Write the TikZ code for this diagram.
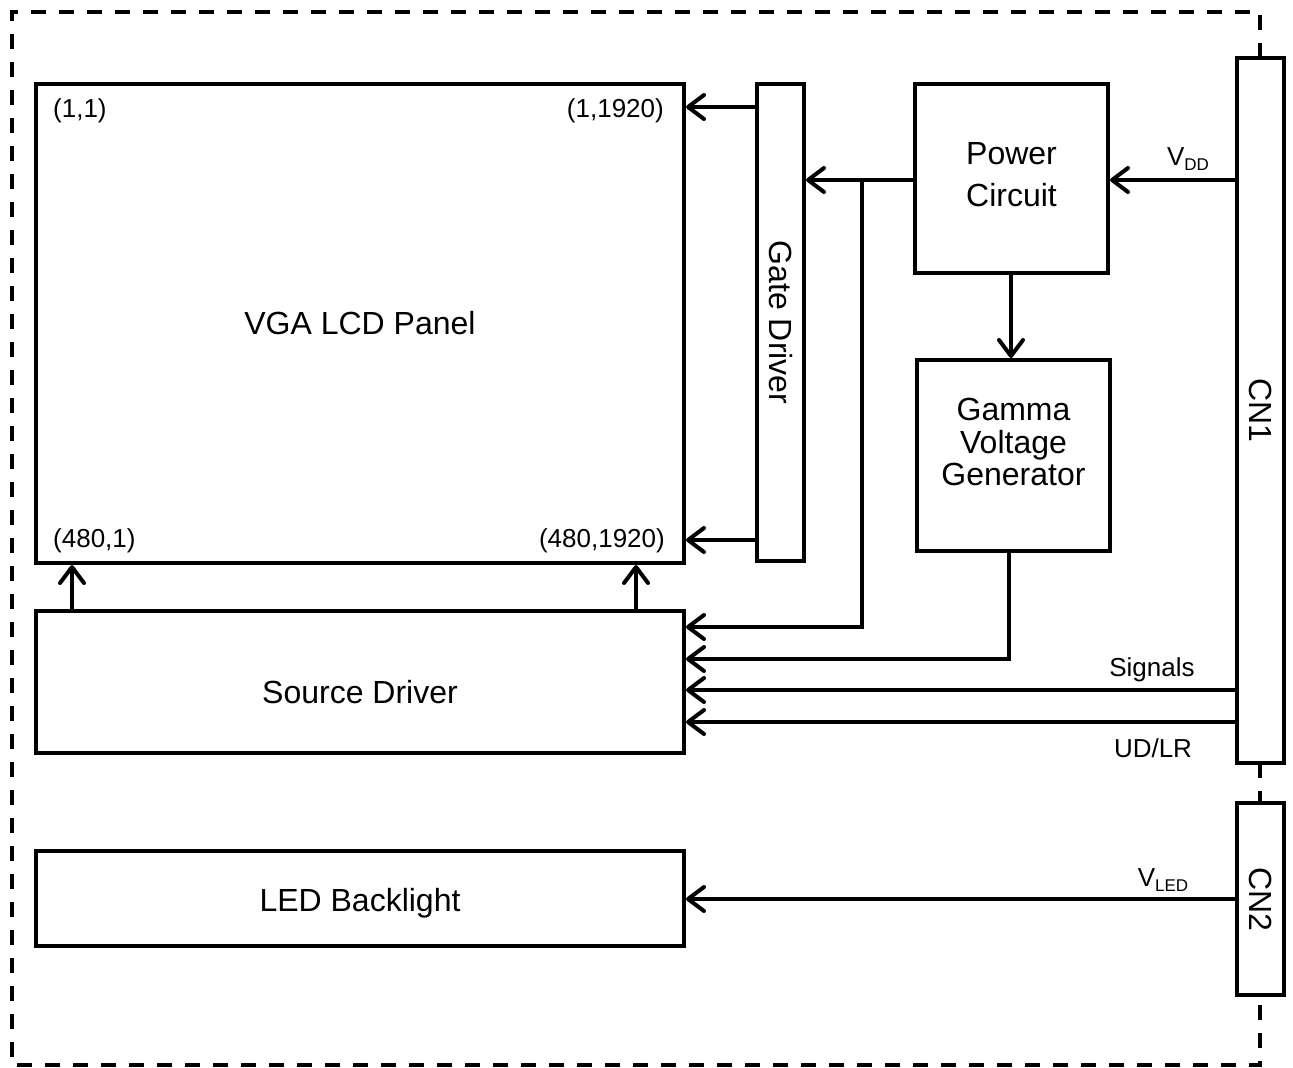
\documentclass[tikz,border=0pt]{standalone}
\usepackage{fontspec}
\setmainfont{Liberation Sans}
\usetikzlibrary{arrows.meta}
\newcommand{\mvtext}[2]{\raisebox{#1}[\height][\depth]{#2}}
\begin{document}
\begin{tikzpicture}[x=1pt,y=-1pt,
  box/.style={draw, line width=4pt, fill=white, inner sep=0pt, font=\fontsize{32}{32}\selectfont, align=center},
  arr/.style={line width=4pt, -{Straight Barb[length=16pt,width=24pt,line cap=round,line join=round]}},
  lbl/.style={inner sep=0pt, font=\fontsize{26}{26}\selectfont},
  border/.style={line width=4pt, dash pattern=on 15pt off 13pt}]
\useasboundingbox (0,0) rectangle (1293,1068);
\draw[border] (1260,58) -- (1260,12) -- (12,12) -- (12,1065) -- (1260,1065) -- (1260,995);
\draw[border] (1260,763) -- (1260,803);
\node[box, minimum width=648pt, minimum height=479pt] (panel) at (360,323.5) {VGA LCD Panel};
\node[box, minimum width=47pt, minimum height=477pt] (gate) at (780.5,322.5) {\rotatebox{-90}{Gate Driver}};
\node[box, minimum width=193pt, minimum height=189pt] (power) at (1011.5,178.5)
  {\mvtext{1pt}{\fontsize{32}{42}\selectfont\begin{tabular}{@{}c@{}}Power\\Circuit\end{tabular}}};
\node[box, minimum width=193pt, minimum height=191pt] (gamma) at (1013.5,455.5)
  {\mvtext{9pt}{\begin{tabular}{@{}c@{}}Gamma\\Voltage\\Generator\end{tabular}}};
\node[box, minimum width=47pt, minimum height=705pt] (cn1) at (1260.5,410.5) {\rotatebox{-90}{CN1}};
\node[box, minimum width=47pt, minimum height=192pt] (cn2) at (1260.5,899) {\rotatebox{-90}{CN2}};
\node[box, minimum width=648pt, minimum height=142pt] (source) at (360,682) {\mvtext{-10pt}{Source Driver}};
\node[box, minimum width=648pt, minimum height=95pt] (led) at (360,898.5) {\mvtext{-5pt}{LED Backlight}};
\node[lbl, anchor=west] (c11) at (53,111) {(1,1)};
\node[lbl, anchor=east] (c1n) at (664,111) {(1,1920)};
\node[lbl, anchor=west] (cm1) at (53,541) {(480,1)};
\node[lbl, anchor=east] (cmn) at (665,541) {(480,1920)};
\draw[arr] (gate.west |- 0,107) -- (panel.east |- 0,107);
\draw[arr] (gate.west |- 0,540) -- (panel.east |- 0,540);
\coordinate (j) at (862,180);
\draw[arr] (power.west |- j) -- (gate.east |- j);
\draw[arr] (j) -- (862,627) -- (source.east |- 0,627);
\draw[arr] (power.south -| 1011,0) -- (gamma.north -| 1011,0);
\draw[arr] (gamma.south -| 1009,0) -- (1009,659) -- (source.east |- 0,659);
\draw[arr] (cn1.west |- 0,690) -- (source.east |- 0,690);
\draw[arr] (cn1.west |- 0,722) -- (source.east |- 0,722);
\draw[arr] (cn1.west |- 0,180) -- (power.east |- 0,180);
\draw[arr] (cn2.west |- 0,899) -- (led.east |- 0,899);
\draw[arr] (source.north -| 72,0) -- (panel.south -| 72,0);
\draw[arr] (source.north -| 636,0) -- (panel.south -| 636,0);
\node[lbl] (vdd) at (1188,159) {V\raisebox{-0.22em}{\fontsize{17}{17}\selectfont DD}};
\node[lbl] (sig) at (1152,670) {Signals};
\node[lbl] (udlr) at (1153,748) {UD/LR};
\node[lbl] (vled) at (1163,880) {V\raisebox{-0.22em}{\fontsize{17}{17}\selectfont LED}};
\end{tikzpicture}
\end{document}
